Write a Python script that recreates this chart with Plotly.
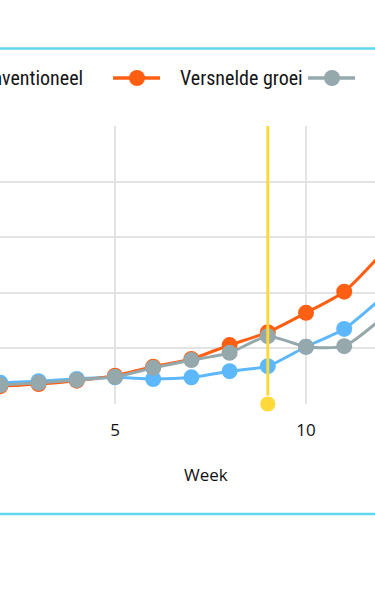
import plotly.graph_objects as go

# ---- data ----
weeks = [2, 3, 4, 5, 6, 7, 8, 9, 10, 11, 12]
conventioneel = [3.8, 4.1, 4.5, 4.8, 4.5, 4.8, 5.9, 6.8, 10.3, 13.5, 19.2]
versnelde_groei = [3.2, 3.6, 4.2, 5.1, 6.7, 8.1, 10.6, 12.9, 16.4, 20.2, 27.2]
werkelijk = [3.4, 3.8, 4.3, 4.9, 6.5, 7.9, 9.2, 12.2, 10.3, 10.4, 15.5]
series_names = ["Conventioneel", "Versnelde groei", "Werkelijk"]
current_week = 9
x_ticks = [5, 10]
x_title = "Week"

W, H = 375, 600
TOP, BOTTOM = 126, 404

colors = ["#5db8fb", "#ff5f12", "#95a8ac"]
yellow = "#ffd83a"
cyan = "#62d6ef"
LEGEND_FONT = "Roboto Condensed, Roboto, Liberation Sans"


def px_x(px):
    return px / W


def px_y(py):
    return (BOTTOM - py) / (BOTTOM - TOP)


fig = go.Figure()

for name, vals, col in zip(series_names, [conventioneel, versnelde_groei, werkelijk], colors):
    fig.add_trace(go.Scatter(
        x=weeks, y=vals, name=name,
        mode="lines+markers",
        line=dict(color=col, width=3, shape="spline", smoothing=0.6),
        marker=dict(color=col, size=16, opacity=1),
        cliponaxis=False, showlegend=False,
    ))

# current week marker line
fig.add_trace(go.Scatter(
    x=[current_week, current_week], y=[0, 50],
    mode="lines+markers",
    line=dict(color=yellow, width=3),
    marker=dict(color=yellow, size=[16, 0], opacity=1),
    cliponaxis=False, showlegend=False, hoverinfo="skip",
))

shapes = []
annotations = []

# container borders
for py in (48.5, 514):
    shapes.append(dict(type="line", xref="paper", yref="paper",
                       x0=0, x1=1, y0=px_y(py), y1=px_y(py),
                       line=dict(color=cyan, width=2.5)))

# manual legend (text anchored as in the reference crop)
legend_y = 78
legend_items = [
    (0, -180, None, 85),
    (1, 113, 178, None),
    (2, 308, 373, None),
]
for idx, lx, tx_start, tx_end in legend_items:
    col = colors[idx]
    shapes.append(dict(type="line", xref="paper", yref="paper",
                       x0=px_x(lx), x1=px_x(lx + 47),
                       y0=px_y(legend_y), y1=px_y(legend_y),
                       line=dict(color=col, width=3.5)))
    shapes.append(dict(type="circle", xref="paper", yref="paper",
                       xsizemode="pixel", ysizemode="pixel",
                       xanchor=px_x(lx + 24), yanchor=px_y(legend_y),
                       x0=-8, x1=8, y0=-8, y1=8,
                       fillcolor=col, line=dict(width=0)))
    if tx_end is not None:
        ax, anchor = tx_end, "right"
    else:
        ax, anchor = tx_start, "left"
    annotations.append(dict(text=series_names[idx], xref="paper", yref="paper",
                            x=px_x(ax), y=px_y(legend_y),
                            xanchor=anchor, yanchor="middle", showarrow=False,
                            font=dict(family=LEGEND_FONT, size=20, color="#151515")))

# axis title (centred on the full, wider chart)
annotations.append(dict(text=x_title, xref="paper", yref="paper",
                        x=px_x(206), y=px_y(474), xanchor="center", yanchor="middle",
                        showarrow=False,
                        font=dict(family="Open Sans, Noto Sans", size=17, color="#111111")))

fig.update_layout(
    width=W, height=H,
    margin=dict(l=0, r=0, t=TOP, b=H - BOTTOM, pad=0, autoexpand=False),
    paper_bgcolor="white", plot_bgcolor="white",
    shapes=shapes, annotations=annotations,
    showlegend=False,
    xaxis=dict(range=[1.99, 11.806], tickvals=x_ticks, ticktext=[str(t) for t in x_ticks],
               showgrid=True, gridcolor="#e3e3e3", gridwidth=2,
               zeroline=False, showline=False, ticks="",
               ticklabelstandoff=14,
               tickfont=dict(family="Open Sans, Noto Sans", size=17, color="#111111")),
    yaxis=dict(range=[0, 50], dtick=10, showticklabels=False,
               showgrid=True, gridcolor="#e3e3e3", gridwidth=2,
               zeroline=False, showline=False, ticks=""),
)

fig.write_html("out.html", config={"displayModeBar": False},
               post_script="document.body.style.margin='0';document.body.style.overflow='hidden';")
